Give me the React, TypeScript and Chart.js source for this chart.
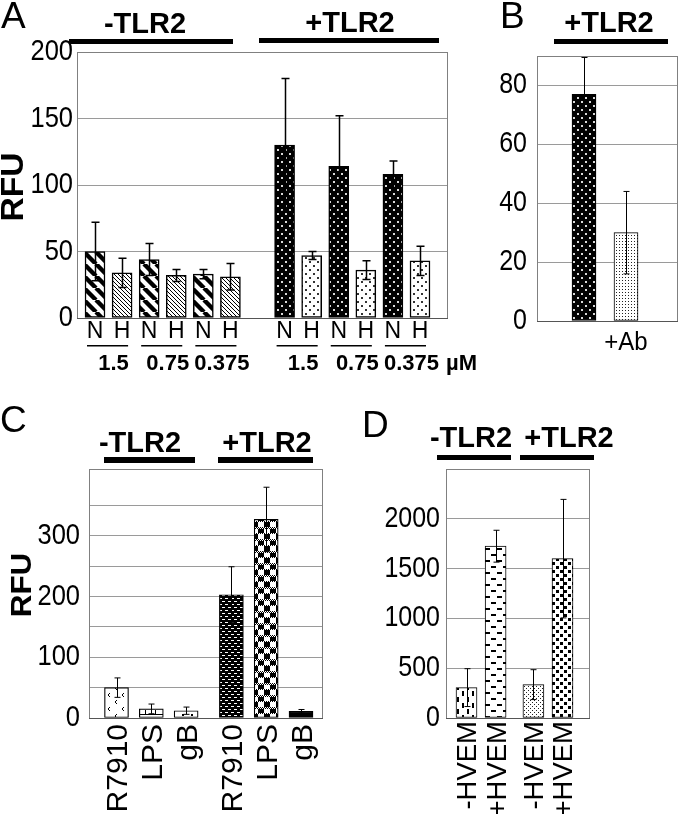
import React, { useEffect, useRef } from "react";
import { Chart, registerables } from "chart.js";
Chart.register(...registerables);

const FONT = "'Liberation Sans', Arial, Helvetica, sans-serif";

// ---------- Panel A ----------
const aGroupNames = ["-TLR2", "+TLR2"];
const aBarLabels = ["N", "H", "N", "H", "N", "H", "N", "H", "N", "H", "N", "H"];
const aConcentrations = ["1.5", "0.75", "0.375", "1.5", "0.75", "0.375"];
const aUnit = "µM";
const aValues = [50, 34, 44, 32, 33, 31, 130, 47, 114, 36, 108, 43];
const aErrors = [22, 11, 12, 4.5, 3.5, 10, 50, 3, 38, 7, 10, 11];
const aYTicks = [0, 50, 100, 150, 200];
const aYMax = 200;
const aYTitle = "RFU";

// ---------- Panel B ----------
const bGroupNames = ["+TLR2"];
const bBarLabels = ["", "+Ab"];
const bValues = [77, 30];
const bErrors = [12.5, 14];
const bYTicks = [0, 20, 40, 60, 80];
const bYMax = 90;

// ---------- Panel C ----------
const cGroupNames = ["-TLR2", "+TLR2"];
const cBarLabels = ["R7910", "LPS", "gB", "R7910", "LPS", "gB"];
const cValues = [50, 15, 12, 203, 327, 11];
const cErrors = [16, 8, 6, 46, 53, 3];
const cYGrid = [0, 50, 100, 150, 200, 250, 300, 350];
const cYLabels = [0, 100, 200, 300];
const cYMax = 410;
const cYTitle = "RFU";

// ---------- Panel D ----------
const dGroupNames = ["-TLR2", "+TLR2"];
const dBarLabels = ["-HVEM", "+HVEM", "-HVEM", "+HVEM"];
const dValues = [305, 1725, 335, 1600];
const dErrors = [190, 160, 150, 595];
const dYTicks = [0, 500, 1000, 1500, 2000];
const dYMax = 2500;

// slot index for each bar: bars in groups with a gap between groups
const slotsOf = (n: number, perGroup: number, gap: number) =>
  Array.from({ length: n }, (_, i) => Math.floor(i / perGroup) * (perGroup + gap) + (i % perGroup));

type Pats = Record<string, CanvasPattern | string>;

function tile(w: number, h: number, bg: string, draw: (g: CanvasRenderingContext2D) => void) {
  const c = document.createElement("canvas");
  c.width = w;
  c.height = h;
  const g = c.getContext("2d")!;
  g.fillStyle = bg;
  g.fillRect(0, 0, w, h);
  g.fillStyle = "#000";
  g.strokeStyle = "#000";
  draw(g);
  return c;
}

function makePatterns(ctx: CanvasRenderingContext2D): Pats {
  const P = (w: number, h: number, bg: string, draw: (g: CanvasRenderingContext2D) => void) =>
    ctx.createPattern(tile(w, h, bg, draw), "repeat")!;
  const diag = (s: number, lw: number) => (g: CanvasRenderingContext2D) => {
    g.lineWidth = lw;
    g.beginPath();
    for (const o of [-s, 0, s]) {
      g.moveTo(o, 0);
      g.lineTo(o + s, s);
    }
    g.stroke();
  };
  return {
    thickDiag: P(12, 12, "#fff", diag(12, 4.4)),
    thinDiag: P(4, 4, "#fff", diag(4, 1)),
    blackDots: P(8, 8, "#000", (g) => {
      g.fillStyle = "#d8d8d8";
      g.fillRect(1, 1, 2, 2);
      g.fillRect(5, 5, 2, 2);
    }),
    whiteDots: P(8, 8, "#fff", (g) => {
      g.fillStyle = "#333";
      g.fillRect(1, 1, 2, 2);
      g.fillRect(5, 5, 2, 2);
    }),
    fineDots: P(3, 3, "#fff", (g) => {
      g.fillStyle = "#222";
      g.fillRect(1, 1, 1, 1);
    }),
    fineDots4: P(4, 4, "#fff", (g) => {
      g.fillStyle = "#222";
      g.fillRect(0, 0, 1, 1);
      g.fillRect(2, 2, 1, 1);
    }),
    chevron: P(14, 14, "#fff", (g) => {
      g.lineWidth = 1;
      g.beginPath();
      g.moveTo(5, 2);
      g.lineTo(3, 4);
      g.lineTo(5, 6);
      g.moveTo(12, 9);
      g.lineTo(10, 11);
      g.lineTo(12, 13);
      g.stroke();
    }),
    brick: P(10, 8, "#fff", (g) => {
      g.fillRect(0, 4, 10, 1);
      g.fillRect(5, 0, 1, 4);
    }),
    sparseDots: P(9, 7, "#fff", (g) => {
      g.fillRect(2, 2, 2, 2);
      g.fillRect(6, 5, 2, 1);
    }),
    dashBlack: P(6, 6, "#000", (g) => {
      g.fillStyle = "#fff";
      g.fillRect(0, 1, 3, 1);
      g.fillRect(3, 4, 3, 1);
    }),
    plaid: P(12, 12, "#fff", (g) => {
      g.fillRect(0, 0, 6, 6);
      g.fillRect(6, 6, 6, 6);
      for (const y0 of [5, 11])
        for (let y = y0; y < y0 + 2; y++)
          for (let x = 0; x < 12; x++) {
            g.fillStyle = (x + y) % 2 ? "#000" : "#fff";
            g.fillRect(x, y, 1, 1);
          }
    }),
    vertDash: P(10, 12, "#fff", (g) => {
      g.fillRect(2, 1, 2, 5);
      g.fillRect(7, 7, 2, 5);
    }),
    horizDash: P(12, 12, "#fff", (g) => {
      g.fillRect(1, 2, 5, 2);
      g.fillRect(7, 8, 5, 2);
    }),
    squares: P(8, 8, "#fff", (g) => {
      g.fillRect(0, 0, 3, 3);
      g.fillRect(4, 4, 3, 3);
    }),
    black: "#000",
  };
}

function drawText(
  ctx: CanvasRenderingContext2D,
  s: string,
  x: number,
  y: number,
  size: number,
  opts: { bold?: boolean; align?: CanvasTextAlign; rot?: boolean; base?: CanvasTextBaseline; sy?: number } = {}
) {
  ctx.save();
  ctx.font = `${opts.bold ? "bold " : ""}${size}px ${FONT}`;
  ctx.fillStyle = "#000";
  ctx.textAlign = opts.align || "center";
  ctx.textBaseline = opts.base || "alphabetic";
  ctx.translate(x, y);
  if (opts.sy) ctx.scale(1, opts.sy);
  if (opts.rot) ctx.rotate(-Math.PI / 2);
  ctx.fillText(s, 0, 0);
  ctx.restore();
}

function bar(ctx: CanvasRenderingContext2D, x: number, y: number, w: number, h: number) {
  ctx.fillStyle = "#000";
  ctx.fillRect(x, y, w, h);
}

// rotated label centred on x, ending at yTop
function rotLabel(ctx: CanvasRenderingContext2D, s: string, x: number, yTop: number, size: number, bold = false) {
  drawText(ctx, s, x + size * 0.36, yTop, size, { rot: true, align: "right", bold });
}

type Spec = {
  box: { x: number; y: number; w: number; h: number };
  area: { l: number; r: number; t: number; b: number };
  xMin: number;
  xMax: number;
  slots: number[];
  values: number[];
  errors: number[];
  fills: (p: Pats) => (CanvasPattern | string)[];
  barThickness: number;
  borderWidth: number;
  yMax: number;
  yGrid: number[];
  yLabel: (v: number) => string;
  tickSize: number;
  tickPad: number;
  cap: number;
  errWidth: number;
  decorate: (ctx: CanvasRenderingContext2D, xp: (i: number) => number) => void;
};

const specs: Spec[] = [
  {
    box: { x: 0, y: 0, w: 480, h: 385 },
    area: { l: 77, r: 448, t: 52, b: 318 },
    xMin: -0.665,
    xMax: 13.034,
    slots: slotsOf(aValues.length, 6, 1),
    values: aValues,
    errors: aErrors,
    fills: (p) =>
      aBarLabels.map((l, i) =>
        i < 6 ? (l === "N" ? p.thickDiag : p.thinDiag) : l === "N" ? p.blackDots : p.whiteDots
      ),
    barThickness: 20,
    borderWidth: 1.5,
    yMax: aYMax,
    yGrid: aYTicks,
    yLabel: (v) => String(v),
    tickSize: 25.5,
    tickPad: 4,
    cap: 4,
    errWidth: 1.5,
    decorate: (ctx, xp) => {
      drawText(ctx, "A", 1, 28, 37, { align: "left" });
      drawText(ctx, aGroupNames[0], 145, 33, 29, { bold: true });
      bar(ctx, 69, 39, 164, 5);
      drawText(ctx, aGroupNames[1], 350, 32, 29, { bold: true });
      bar(ctx, 259, 38, 180, 5);
      aBarLabels.forEach((l, i) => drawText(ctx, l, xp(i), 338, 23, { sy: 1.05 }));
      aConcentrations.forEach((c, k) => {
        const x1 = xp(2 * k),
          x2 = xp(2 * k + 1);
        ctx.fillStyle = "#000";
        ctx.fillRect(x1 - 8, 345, x2 - x1 + 14, 1.5);
        const cx = (x1 + x2) / 2 + 5;
        drawText(ctx, c, cx, 370, 22, { bold: true });
        if (k === aConcentrations.length - 1) {
          ctx.font = `bold 22px ${FONT}`;
          const w = ctx.measureText(c).width;
          drawText(ctx, aUnit, cx + w / 2 + 7, 370, 22, { bold: true, align: "left" });
        }
      });
      drawText(ctx, aYTitle, 11 + 32 * 0.36, 187, 32, { bold: true, rot: true, sy: 1.05 });
    },
  },
  {
    box: { x: 480, y: 0, w: 200, h: 385 },
    area: { l: 537, r: 678, t: 56, b: 321 },
    xMin: -1.119,
    xMax: 2.238,
    slots: slotsOf(bValues.length, 2, 0),
    values: bValues,
    errors: bErrors,
    fills: (p) => [p.blackDots, p.fineDots],
    barThickness: 24,
    borderWidth: 1,
    yMax: bYMax,
    yGrid: bYTicks,
    yLabel: (v) => String(v),
    tickSize: 25,
    tickPad: 10,
    cap: 3,
    errWidth: 1,
    decorate: (ctx, xp) => {
      drawText(ctx, "B", 500, 28, 37, { align: "left" });
      drawText(ctx, bGroupNames[0], 609, 32, 29, { bold: true });
      bar(ctx, 554, 39, 114, 5);
      bBarLabels.forEach((l, i) => l && drawText(ctx, l, xp(i), 350, 24, { sy: 1.05 }));
    },
  },
  {
    box: { x: 0, y: 390, w: 340, h: 424 },
    area: { l: 89, r: 323, t: 469, b: 718 },
    xMin: -0.79,
    xMax: 5.932,
    slots: slotsOf(cValues.length, 3, 0.3),
    values: cValues,
    errors: cErrors,
    fills: (p) => [p.chevron, p.brick, p.sparseDots, p.dashBlack, p.plaid, p.black],
    barThickness: 24,
    borderWidth: 1.2,
    yMax: cYMax,
    yGrid: cYGrid,
    yLabel: (v) => (cYLabels.includes(v) ? String(v) : ""),
    tickSize: 25.5,
    tickPad: 9,
    cap: 3,
    errWidth: 1,
    decorate: (ctx, xp) => {
      drawText(ctx, "C", 0, 432, 37, { align: "left" });
      drawText(ctx, cGroupNames[0], 140, 452, 29, { bold: true });
      bar(ctx, 104, 457, 91, 6);
      drawText(ctx, cGroupNames[1], 267, 452, 29, { bold: true });
      bar(ctx, 218, 457, 95, 6);
      cBarLabels.forEach((l, i) => rotLabel(ctx, l, xp(i), 724, 30));
      drawText(ctx, cYTitle, 20 + 30 * 0.36, 585, 30, { bold: true, rot: true, sy: 1.05 });
    },
  },
  {
    box: { x: 340, y: 390, w: 340, h: 424 },
    area: { l: 446, r: 590, t: 469, b: 718 },
    xMin: -0.705,
    xMax: 4.245,
    slots: slotsOf(dValues.length, 2, 0.3),
    values: dValues,
    errors: dErrors,
    fills: (p) => [p.vertDash, p.horizDash, p.fineDots4, p.squares],
    barThickness: 21,
    borderWidth: 1,
    yMax: dYMax,
    yGrid: dYTicks,
    yLabel: (v) => String(v),
    tickSize: 25,
    tickPad: 6,
    cap: 3,
    errWidth: 1,
    decorate: (ctx, xp) => {
      drawText(ctx, "D", 362, 437, 37, { align: "left" });
      drawText(ctx, dGroupNames[0], 471, 447, 29, { bold: true });
      bar(ctx, 437, 455, 74, 5);
      drawText(ctx, dGroupNames[1], 569, 447, 29, { bold: true });
      bar(ctx, 520, 455, 74, 5);
      dBarLabels.forEach((l, i) => rotLabel(ctx, l, xp(i), 721, 27.5));
    },
  },
];

function buildChart(canvas: HTMLCanvasElement, s: Spec) {
  const ctx = canvas.getContext("2d")!;
  const pats = makePatterns(ctx);
  const { box, area } = s;
  const L = area.l - box.x,
    R = area.r - box.x,
    T = area.t - box.y,
    B = area.b - box.y;

  const deco = {
    id: "deco",
    beforeDatasetsDraw(chart: any) {
      const c = chart.ctx as CanvasRenderingContext2D;
      const a = chart.chartArea;
      c.save();
      c.strokeStyle = "#808080";
      c.lineWidth = 1;
      c.strokeRect(Math.round(a.left) + 0.5, Math.round(a.top) + 0.5, Math.round(a.right - a.left) - 1, Math.round(a.bottom - a.top));
      c.strokeStyle = "#555";
      c.beginPath();
      c.moveTo(a.left, Math.round(a.bottom) + 0.5);
      c.lineTo(a.right, Math.round(a.bottom) + 0.5);
      c.stroke();
      c.restore();
    },
    afterDatasetsDraw(chart: any) {
      const c = chart.ctx as CanvasRenderingContext2D;
      const meta = chart.getDatasetMeta(0);
      const ys = chart.scales.y;
      c.save();
      c.strokeStyle = "#000";
      c.lineWidth = s.errWidth;
      s.values.forEach((v, i) => {
        const el = meta.data[i];
        const x = Math.round(el.x) + 0.5;
        const y1 = ys.getPixelForValue(v + s.errors[i]);
        const y2 = ys.getPixelForValue(Math.max(0, v - s.errors[i]));
        c.beginPath();
        c.moveTo(x, y1);
        c.lineTo(x, y2);
        c.moveTo(x - s.cap, y1);
        c.lineTo(x + s.cap, y1);
        c.moveTo(x - s.cap, y2);
        c.lineTo(x + s.cap, y2);
        c.stroke();
      });
      c.restore();
    },
    afterDraw(chart: any) {
      const c = chart.ctx as CanvasRenderingContext2D;
      const xs = chart.scales.x;
      const ys = chart.scales.y;
      const a = chart.chartArea;
      // y tick labels from the y scale
      s.yGrid.forEach((v) => {
        const lab = s.yLabel(v);
        if (!lab) return;
        drawText(c, lab, a.left - s.tickPad, ys.getPixelForValue(v), s.tickSize, {
          align: "right",
          base: "middle",
          sy: 1.15,
        });
      });
      c.save();
      c.translate(-box.x, -box.y);
      s.decorate(c, (i) => xs.getPixelForValue(s.slots[i]) + box.x);
      c.restore();
    },
  };

  return new Chart(canvas, {
    type: "bar",
    data: {
      datasets: [
        {
          data: s.slots.map((x, i) => ({ x, y: s.values[i] })),
          backgroundColor: s.fills(pats) as any,
          borderColor: "#000",
          borderWidth: s.borderWidth,
          borderSkipped: false,
          barThickness: s.barThickness,
        } as any,
      ],
    },
    options: {
      animation: false,
      responsive: false,
      maintainAspectRatio: false,
      devicePixelRatio: 1,
      events: [],
      layout: { padding: { left: 0, top: T, right: box.w - R, bottom: box.h - B } },
      plugins: { legend: { display: false }, tooltip: { enabled: false } },
      scales: {
        x: { type: "linear", display: false, min: s.xMin, max: s.xMax, offset: false },
        y: {
          type: "linear",
          min: 0,
          max: s.yMax,
          afterFit: (sc: any) => {
            sc.width = L;
          },
          afterBuildTicks: (sc: any) => {
            sc.ticks = s.yGrid.map((v) => ({ value: v }));
          },
          grid: { color: "#9a9a9a", lineWidth: 1, drawTicks: false },
          border: { display: false },
          ticks: { display: false },
        },
      },
    } as any,
    plugins: [deco],
  });
}

export default function App() {
  const refs = useRef<(HTMLCanvasElement | null)[]>([]);
  useEffect(() => {
    const charts = specs.map((s, i) => buildChart(refs.current[i]!, s));
    return () => charts.forEach((c) => c.destroy());
  }, []);
  return (
    <div style={{ position: "absolute", left: 0, top: 0, width: 680, height: 814, background: "#fff", overflow: "hidden" }}>
      {specs.map((s, i) => (
        <canvas
          key={i}
          ref={(el) => {
            refs.current[i] = el;
          }}
          width={s.box.w}
          height={s.box.h}
          style={{ position: "absolute", left: s.box.x, top: s.box.y, width: s.box.w, height: s.box.h }}
        />
      ))}
    </div>
  );
}
